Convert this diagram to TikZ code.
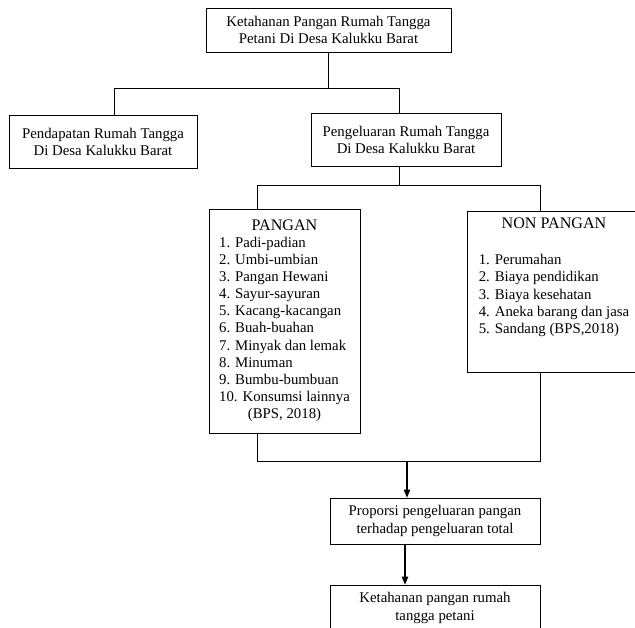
\documentclass[tikz,border=0pt]{standalone}
\usepackage{fontspec}
\setmainfont{Liberation Serif}
\usetikzlibrary{arrows.meta}
\newcommand{\teks}{\fontsize{14.8}{17.1}\selectfont}
\newcommand{\judul}{\fontsize{16.1}{17.1}\selectfont}

\begin{document}
\begin{tikzpicture}[x=1pt, y=-1pt,
    kotak/.style={rectangle, draw, line width=0.8pt, inner sep=0pt, align=center, font=\teks},
    garis/.style={line width=0.8pt},
    panah/.style={-{Triangle[length=8pt, width=6.5pt]}, line width=1.1pt}]
    \useasboundingbox (0,0) rectangle (635,627);

    \draw
    (328.5, 30) node[kotak, minimum width=245pt, minimum height=44pt](atas){Ketahanan Pangan Rumah Tangga\\Petani Di Desa Kalukku Barat}
    (103, 141.5) node[kotak, minimum width=188pt, minimum height=53pt](pendapatan){Pendapatan Rumah Tangga\\Di Desa Kalukku Barat}
    (406, 139.5) node[kotak, minimum width=190pt, minimum height=53pt](pengeluaran){Pengeluaran Rumah Tangga\\Di Desa Kalukku Barat}
    (284.5, 321) node[kotak, minimum width=151pt, minimum height=224pt](pangan){%
      \begin{tabular}{@{}l@{}}
        \multicolumn{1}{c}{\judul PANGAN}\\
        1. Padi-padian\\
        2. Umbi-umbian\\
        3. Pangan Hewani\\
        4. Sayur-sayuran\\
        5. Kacang-kacangan\\
        6. Buah-buahan\\
        7. Minyak dan lemak\\
        8. Minuman\\
        9. Bumbu-bumbuan\\
        10. Konsumsi lainnya\\
        \multicolumn{1}{c}{(BPS, 2018)}
      \end{tabular}}
    (554, 291.5) node[kotak, minimum width=174pt, minimum height=161pt](nonpangan){}
    (435, 521) node[kotak, minimum width=210pt, minimum height=46pt](proporsi){Proporsi pengeluaran pangan\\terhadap pengeluaran total}
    (435, 608) node[kotak, minimum width=210pt, minimum height=46pt](hasil){Ketahanan pangan rumah\\tangga petani};

    \node[anchor=north, font=\teks, inner sep=0pt] (isinonpangan) at ([yshift=-6pt]nonpangan.north){%
      \begin{tabular}{@{}l@{}}
        \multicolumn{1}{c}{\judul NON PANGAN}\\[19pt]
        1. Perumahan\\
        2. Biaya pendidikan\\
        3. Biaya kesehatan\\
        4. Aneka barang dan jasa\\
        5. Sandang (BPS,2018)
      \end{tabular}};

    % titik sambungan
    \coordinate (t1) at (114, 88);
    \coordinate (t2) at (399, 88);
    \coordinate (t3) at (257, 185);
    \coordinate (t4) at (540, 185);
    \coordinate (t5) at (257, 461);
    \coordinate (t6) at (540, 461);
    \coordinate (t7) at (407, 461);

    \draw[garis] (atas.south) -- (atas.south |- t1);
    \draw[garis] (t1 |- pendapatan.north) -- (t1) -- (t2) -- (t2 |- pengeluaran.north);
    \draw[garis] (pengeluaran.south -| t2) -- (t2 |- t3);
    \draw[garis] (t3 |- pangan.north) -- (t3) -- (t4) -- (t4 |- nonpangan.north);
    \draw[garis] (pangan.south -| t5) -- (t5) -- (t6) -- (t6 |- nonpangan.south);
    \draw[panah] (t7) -- (t7 |- proporsi.north);
    \draw[panah] ([xshift=-30pt]proporsi.south) -- ([xshift=-30pt]hasil.north);

\end{tikzpicture}
\end{document}
